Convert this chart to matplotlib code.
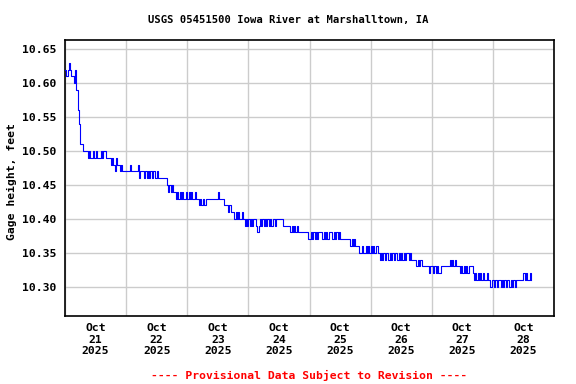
import matplotlib
matplotlib.use("Agg")
import matplotlib.pyplot as plt
import matplotlib.dates as mdates
import numpy as np
import pandas as pd

# Gage height, hundredths of a foot above 10.00 ft, 30-minute steps from Oct 21 2025 00:00
oct21 = [62,61,62,63,62,61,61,60,62,59,56,54,51,51,50,50,50,50,
         49,50,49,49,50,49,50,49,49,49,50,49,50,50,49,49,49,49,
         48,49,48,47,49,48,48,47,48,47,47,47]
oct22 = [47,47,47,48,47,47,47,47,47,48,46,47,47,47,46,47,46,47,
         46,47,46,47,47,46,47,46,46,46,46,46,46,46,45,44,45,44,
         45,44,44,43,44,43,44,43,44,43,43,44]
oct23 = [43,44,43,44,43,43,44,43,43,42,43,42,43,42,42,43,43,43,
         43,43,43,43,43,43,44,43,43,43,43,42,42,42,41,42,41,41,
         41,40,41,40,41,40,40,41,40,39,40,39]
oct24 = [40,39,40,39,40,40,39,38,39,40,39,40,39,40,39,40,39,40,
         39,40,40,39,40,40,40,40,40,39,39,39,39,39,39,38,39,38,
         39,38,39,38,38,38,38,38,38,38,38,37]
oct25 = [37,38,37,38,37,38,37,38,38,38,37,38,37,38,37,38,38,38,
         37,38,37,38,37,38,37,37,37,37,37,37,37,37,36,37,36,37,
         36,36,36,35,35,36,35,35,36,35,36,35]
oct26 = [36,35,36,35,36,36,35,34,35,34,35,34,35,35,34,35,34,35,
         34,35,35,34,35,34,35,34,35,34,35,35,34,35,34,34,34,34,
         33,34,33,34,33,33,33,33,33,33,32,33]
oct27 = [33,32,33,32,33,32,32,33,33,33,33,33,33,33,34,33,34,33,
         34,33,33,33,32,33,32,33,32,33,32,33,33,33,32,31,32,31,
         32,31,32,31,32,31,31,32,31,31,30,31]
oct28 = [31,30,31,30,31,31,30,31,30,31,30,31,31,30,31,30,31,30,
         31,31,31,31,31,31,32,31,32,31,31,32,31]

hundredths = oct21 + oct22 + oct23 + oct24 + oct25 + oct26 + oct27 + oct28
gage = 10.0 + np.array(hundredths) / 100.0
times = pd.date_range("2025-10-21 00:00", periods=len(gage), freq="30min")

y_ticks = [10.30, 10.35, 10.40, 10.45, 10.50, 10.55, 10.60, 10.65]

title = "USGS 05451500 Iowa River at Marshalltown, IA"
ylabel = "Gage height, feet"
footer = "---- Provisional Data Subject to Revision ----"

mono = "DejaVu Sans Mono"
fig = plt.figure(figsize=(5.76, 3.84), dpi=100)
ax = fig.add_axes([65/576, 1-316/384, (554-65)/576, (316-40)/384])

ax.plot(times, gage, color="#0000ff", linewidth=0.8, drawstyle="steps-post", zorder=3)

ax.set_xlim(pd.Timestamp("2025-10-21 00:00"), pd.Timestamp("2025-10-29 00:00"))
ax.set_ylim(10.2568, 10.6637)

ax.set_yticks(y_ticks)
ax.set_yticklabels([f"{v:.2f}" for v in y_ticks])

ax.xaxis.set_major_locator(mdates.DayLocator())
ax.xaxis.set_major_formatter(plt.NullFormatter())
ax.xaxis.set_minor_locator(mdates.HourLocator(byhour=[12]))
ax.xaxis.set_minor_formatter(mdates.DateFormatter("%b\n%d\n%Y"))

ax.grid(True, which="major", color="#cccccc", linewidth=1.0, zorder=0)
ax.tick_params(axis="both", which="both", length=0)
ax.tick_params(axis="y", pad=6)
ax.tick_params(axis="x", which="minor", pad=5)

for lab in ax.get_yticklabels() + ax.get_xticklabels(minor=True):
    lab.set_fontfamily(mono)
    lab.set_fontweight("bold")
    lab.set_fontsize(8.2)

for sp in ax.spines.values():
    sp.set_linewidth(1.2)
    sp.set_color("black")

fig.text(0.5, 1-20/384, title, ha="center", va="center",
         fontfamily=mono, fontweight="bold", fontsize=7.6)
fig.text(12/576, 1-182/384, ylabel, ha="center", va="center", rotation=90,
         fontfamily=mono, fontweight="bold", fontsize=8.2)
fig.text(309/576, 1-375/384, footer, ha="center", va="center", color="red",
         fontfamily=mono, fontweight="bold", fontsize=8.2)

fig.savefig("out.png", dpi=100)
